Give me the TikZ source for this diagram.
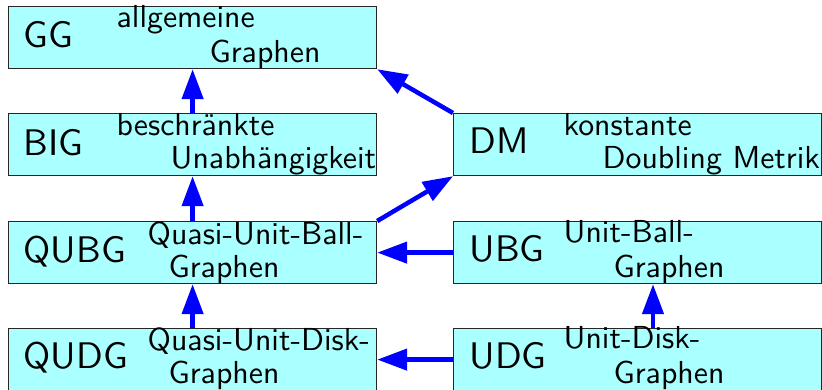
\documentclass[tikz,border=0pt]{standalone}
\usetikzlibrary{arrows.meta}
\definecolor{boxfill}{RGB}{170,255,255}
\definecolor{arrblue}{RGB}{0,0,255}
\begin{document}
\begin{tikzpicture}[x=1pt,y=-1pt,
  box/.style={draw=black!85, line width=1.2pt, fill=boxfill, minimum width=368pt, minimum height=62pt, anchor=north west, inner sep=0pt},
  abbr/.style={anchor=base west, inner sep=0pt, font=\sffamily\fontsize{10}{12}\selectfont, scale=3.7, transform shape},
  desc/.style={anchor=base west, inner sep=0pt, font=\sffamily\fontsize{10}{12}\selectfont, scale=3.18, transform shape},
  arr/.style={draw=arrblue, line width=4.5pt, -{Triangle[length=30pt,width=21pt]}, color=arrblue}]
\useasboundingbox (0,0) rectangle (822,389);
% boxes
\node[box] (GG)   at (8,6)   {};
\node[box] (BIG)  at (8,113) {};
\node[box] (DM)   at (453,113) {};
\node[box] (QUBG) at (8,221) {};
\node[box] (UBG)  at (453,221) {};
\node[box] (QUDG) at (8,328) {};
\node[box] (UDG)  at (453,328) {};
% texts
\node[abbr] (tGG) at (23,47) {GG};
\node[desc] (tGG1) at (116,27) {allgemeine};
\node[desc] (tGG2) at (209,62) {Graphen};
\node[abbr] (tBIG) at (23,155) {BIG};
\node[desc] (tBIG1) at (116,135) {beschränkte};
\node[desc] (tBIG2) at (170,168) {Unabhängigkeit};
\node[abbr] (tDM) at (469,153) {DM};
\node[desc] (tDM1) at (563,135) {konstante};
\node[desc] (tDM2) at (602,168) {Doubling Metrik};
\node[abbr] (tQUBG) at (23,262) {QUBG};
\node[desc] (tQUBG1) at (147,244) {Quasi-Unit-Ball-};
\node[desc] (tQUBG2) at (168,277) {Graphen};
\node[abbr] (tUBG) at (469,261) {UBG};
\node[desc] (tUBG1) at (563,242) {Unit-Ball-};
\node[desc] (tUBG2) at (613,277) {Graphen};
\node[abbr] (tQUDG) at (23,368) {QUDG};
\node[desc] (tQUDG1) at (147,350) {Quasi-Unit-Disk-};
\node[desc] (tQUDG2) at (168,383) {Graphen};
\node[abbr] (tUDG) at (469,368) {UDG};
\node[desc] (tUDG1) at (563,348) {Unit-Disk-};
\node[desc] (tUDG2) at (613,383) {Graphen};
% arrows
\coordinate (ux) at (653,0);
\draw[arr] (BIG.north) -- (GG.south);
\draw[arr] (DM.north west) -- (GG.south east);
\draw[arr] (QUBG.north) -- (BIG.south);
\draw[arr] (QUBG.north east) -- (DM.south west);
\draw[arr] (UBG.west) -- (QUBG.east);
\draw[arr] (QUDG.north) -- (QUBG.south);
\draw[arr] (UDG.north -| ux) -- (UBG.south -| ux);
\draw[arr] (UDG.west) -- (QUDG.east);
\end{tikzpicture}
\end{document}
